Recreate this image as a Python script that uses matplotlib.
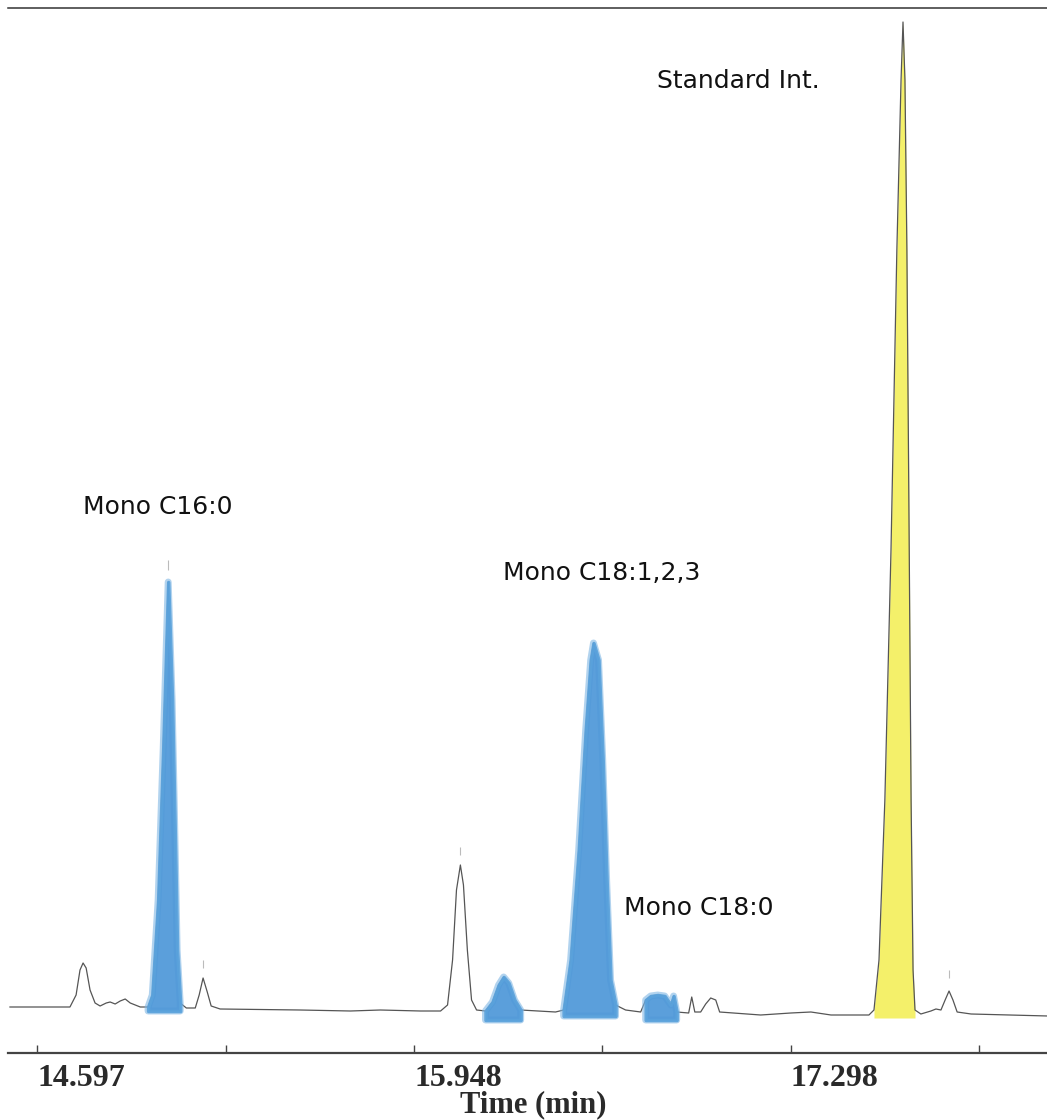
import numpy as np
import matplotlib
matplotlib.use('Agg')
import matplotlib.pyplot as plt

# trace: time (min) and detector signal (arb. units)
time_min = [14.500, 14.715, 14.737, 14.751, 14.762, 14.773, 14.787, 14.805, 14.823,
            14.845, 14.859, 14.877, 14.895, 14.913, 14.931, 14.967, 14.995, 15.010,
            15.031, 15.049, 15.067, 15.081, 15.092, 15.099, 15.110, 15.132, 15.164,
            15.178, 15.192, 15.207, 15.221, 15.253, 15.540, 15.720, 15.827, 15.971,
            16.043, 16.068, 16.086, 16.100, 16.114, 16.125, 16.139, 16.154, 16.172,
            16.204, 16.229, 16.251, 16.269, 16.287, 16.308, 16.330, 16.455, 16.484,
            16.509, 16.538, 16.563, 16.581, 16.591, 16.609, 16.624, 16.638, 16.652,
            16.670, 16.706, 16.760, 16.778, 16.796, 16.821, 16.846, 16.868, 16.878,
            16.889, 16.932, 16.943, 16.954, 16.975, 16.993, 17.011, 17.029, 17.043,
            17.190, 17.298, 17.370, 17.442, 17.578, 17.596, 17.614, 17.635, 17.657,
            17.678, 17.693, 17.700, 17.707, 17.714, 17.721, 17.729, 17.736, 17.743,
            17.764, 17.800, 17.818, 17.836, 17.851, 17.865, 17.879, 17.894, 17.944,
            18.220]
signal = [46, 46, 58, 83, 90, 85, 63, 50, 47,
          50, 51, 49, 52, 54, 50, 46, 46, 58,
          153, 303, 471, 353, 203, 103, 50, 45, 45,
          58, 75, 61, 47, 44, 43, 42, 43, 42,
          42, 48, 93, 163, 188, 168, 103, 53, 43,
          42, 51, 68, 76, 70, 53, 43, 41, 43,
          93, 203, 323, 393, 410, 393, 293, 173, 73,
          48, 43, 41, 53, 57, 58, 57, 48, 57,
          41, 40, 56, 41, 41, 49, 55, 53, 41,
          38, 40, 41, 38, 38, 43, 93, 253, 503,
          803, 973, 1031, 973, 803, 553, 253, 83, 43,
          39, 42, 44, 43, 53, 62, 53, 41, 39,
          37]

# hand coloured peaks (start, end, floor)
blue_peaks = [(14.995, 15.117, 42), (16.197, 16.337, 33), (16.473, 16.695, 37), (16.764, 16.896, 33)]
yellow_peaks = [(17.589, 17.746, 35)]

# little integration marks above some peaks
mark_t = [15.067, 15.192, 16.114, 17.865]
mark_lo = [483, 85, 198, 75]
mark_hi = [493, 93, 206, 83]

tick_pos = [14.597, 15.2725, 15.948, 16.623, 17.298, 17.973]
tick_lab = ['14.597', '', '15.948', '', '17.298', '']

labels = ['Standard Int.', 'Mono C16:0', 'Mono C18:1,2,3', 'Mono C18:0']
label_t = [16.817, 14.762, 16.265, 16.699]
label_s = [972, 546, 480, 145]


def plotGraphs():
  t = np.array(time_min)
  s = np.array(signal, dtype=float)

  fig = plt.figure(figsize=(10.47, 11.2), dpi=100)
  ax = fig.add_axes([8/1047., 1-1053/1120., 1-8/1047., 1045/1120.])

  # trace
  ax.plot(t, s, color='#555555', lw=0.9, zorder=2)

  # yellow standard peak (trace stays on top)
  for a, b, fl in yellow_peaks:
    m = (t >= a) & (t <= b)
    ax.fill_between(t[m], s[m], fl, color='#f4f06a', lw=0, zorder=1)

  # blue scribbled peaks, fuzzy rim + solid core
  for a, b, fl in blue_peaks:
    m = (t >= a) & (t <= b)
    ax.fill_between(t[m], s[m], fl, facecolor='none', edgecolor='#7fb6e4',
                    lw=5, alpha=0.6, zorder=3)
    ax.fill_between(t[m], s[m], fl, facecolor='#4d97d8', edgecolor='#5aa2dc',
                    lw=2.5, alpha=0.92, zorder=3)

  ax.vlines(mark_t, mark_lo, mark_hi, color='#bbbbbb', lw=0.8)

  for txt, xx, yy in zip(labels, label_t, label_s):
    ax.text(xx, yy, txt, fontsize=18, ha='left', va='center', color='#111111',
            family='DejaVu Sans')

  ax.set_xlim(14.493, 18.216)
  ax.set_ylim(0, 1045)
  ax.set_yticks([])
  ax.spines['left'].set_visible(False)
  ax.spines['right'].set_visible(False)
  ax.spines['top'].set_color('#333333')
  ax.spines['top'].set_linewidth(1.1)
  ax.spines['bottom'].set_color('#444444')
  ax.spines['bottom'].set_linewidth(1.6)

  ax.set_xticks(tick_pos)
  ax.set_xticklabels(tick_lab, ha='left', fontsize=23, fontweight='bold',
                     family='Liberation Serif', color='#2a2a2a')
  ax.tick_params(axis='x', direction='in', length=6, width=1, color='#444444', pad=8)
  ax.set_xlabel('Time (min)', fontsize=22, fontweight='bold', family='Liberation Serif',
                color='#2a2a2a')
  ax.xaxis.set_label_coords(0.506, -0.036)

  fig.savefig('out.png', dpi=100)

# =============
# MAIN FUNCTION
# =============
if __name__ == "__main__":
  plotGraphs()
